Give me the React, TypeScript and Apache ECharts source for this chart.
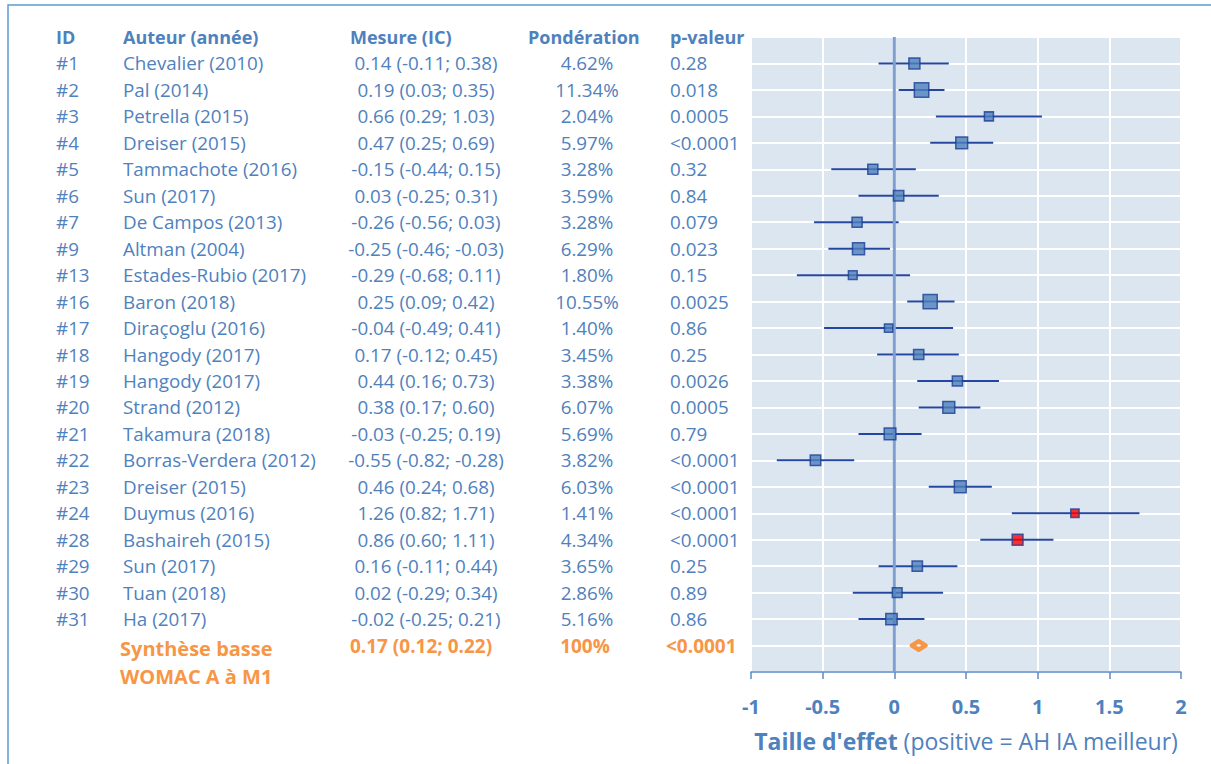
import React, { useEffect, useRef } from "react";
import * as echarts from "echarts";

const ids = ["#1", "#2", "#3", "#4", "#5", "#6", "#7", "#9", "#13", "#16", "#17", "#18", "#19", "#20", "#21", "#22", "#23", "#24", "#28", "#29", "#30", "#31"];
const authors = ["Chevalier (2010)", "Pal (2014)", "Petrella (2015)", "Dreiser (2015)", "Tammachote (2016)", "Sun (2017)", "De Campos (2013)", "Altman (2004)", "Estades-Rubio (2017)", "Baron (2018)", "Diraçoglu (2016)", "Hangody (2017)", "Hangody (2017)", "Strand (2012)", "Takamura (2018)", "Borras-Verdera (2012)", "Dreiser (2015)", "Duymus (2016)", "Bashaireh (2015)", "Sun (2017)", "Tuan (2018)", "Ha (2017)"];
const estimates = [0.14, 0.19, 0.66, 0.47, -0.15, 0.03, -0.26, -0.25, -0.29, 0.25, -0.04, 0.17, 0.44, 0.38, -0.03, -0.55, 0.46, 1.26, 0.86, 0.16, 0.02, -0.02];
const lows = [-0.11, 0.03, 0.29, 0.25, -0.44, -0.25, -0.56, -0.46, -0.68, 0.09, -0.49, -0.12, 0.16, 0.17, -0.25, -0.82, 0.24, 0.82, 0.6, -0.11, -0.29, -0.25];
const highs = [0.38, 0.35, 1.03, 0.69, 0.15, 0.31, 0.03, -0.03, 0.11, 0.42, 0.41, 0.45, 0.73, 0.6, 0.19, -0.28, 0.68, 1.71, 1.11, 0.44, 0.34, 0.21];
const weights = [4.62, 11.34, 2.04, 5.97, 3.28, 3.59, 3.28, 6.29, 1.8, 10.55, 1.4, 3.45, 3.38, 6.07, 5.69, 3.82, 6.03, 1.41, 4.34, 3.65, 2.86, 5.16];
const pValues = ["0.28", "0.018", "0.0005", "<0.0001", "0.32", "0.84", "0.079", "0.023", "0.15", "0.0025", "0.86", "0.25", "0.0026", "0.0005", "0.79", "<0.0001", "<0.0001", "<0.0001", "<0.0001", "0.25", "0.89", "0.86"];
const highlightedIds = ["#24", "#28"];

const headers = ["ID", "Auteur (année)", "Mesure (IC)", "Pondération", "p-valeur"];
const synthLabels = ["Synthèse basse", "WOMAC A à M1"];
const synthEstimate = 0.17;
const synthLow = 0.12;
const synthHigh = 0.22;
const synthWeight = "100%";
const synthP = "<0.0001";

const xMin = -1;
const xMax = 2;
const xInterval = 0.5;

const BLUE = "#4f81bd";
const ORANGE = "#f79646";
const FONT = "'Open Sans', sans-serif";

const f2 = (v: number) => v.toFixed(2);
const measureText = (e: number, l: number, h: number) => `${f2(e)} (${f2(l)}; ${f2(h)})`;

type Cell = { text: string; x: number; align: "left" | "center" | "right"; size?: number; dy?: number };
type Row = { row: number; cells: Cell[]; color: string; bold: boolean; size: number };

const tableRows: Row[] = [];
tableRows.push({
  row: 0,
  color: BLUE,
  bold: true,
  size: 18,
  cells: [
    { text: headers[0], x: 56, align: "left" },
    { text: headers[1], x: 123, align: "left" },
    { text: headers[2], x: 350, align: "left" },
    { text: headers[3], x: 528, align: "left" },
    { text: headers[4], x: 670, align: "left" },
  ],
});
ids.forEach((id, i) => {
  tableRows.push({
    row: i + 1,
    color: BLUE,
    bold: false,
    size: 18.8,
    cells: [
      { text: id, x: 56, align: "left" },
      { text: authors[i], x: 123, align: "left" },
      { text: measureText(estimates[i], lows[i], highs[i]), x: 426, align: "center" },
      { text: weights[i].toFixed(2) + "%", x: 587, align: "center" },
      { text: pValues[i], x: 670, align: "left" },
    ],
  });
});
tableRows.push({
  row: ids.length + 1,
  color: ORANGE,
  bold: true,
  size: 19,
  cells: [
    { text: synthLabels[0], x: 120, align: "left", size: 20, dy: 3 },
    { text: measureText(synthEstimate, synthLow, synthHigh), x: 421, align: "center" },
    { text: synthWeight, x: 585, align: "center" },
    { text: synthP, x: 666, align: "left" },
  ],
});
tableRows.push({
  row: ids.length + 2,
  color: ORANGE,
  bold: true,
  size: 20,
  cells: [{ text: synthLabels[1], x: 120, align: "left", dy: 4 }],
});

const nRows = ids.length + 2;

export default function App() {
  const ref = useRef<HTMLDivElement>(null);
  useEffect(() => {
    document.body.style.margin = "0";
    if (!ref.current) return;
    const chart = echarts.init(ref.current, undefined, { renderer: "svg" });
    const option: any = {
      animation: false,
      backgroundColor: "#ffffff",
      grid: {
        left: 751,
        right: 30,
        top: 37,
        bottom: 92,
        show: true,
        backgroundColor: "#dce6f1",
        borderWidth: 0,
        containLabel: false,
      },
      xAxis: {
        type: "value",
        min: xMin,
        max: xMax,
        interval: xInterval,
        axisLine: { show: true, onZero: false, lineStyle: { color: "#5b8bc9", width: 1.5 } },
        axisTick: { show: true, length: 7, lineStyle: { color: "#5b8bc9", width: 1.5 } },
        splitLine: { show: true, lineStyle: { color: "#ffffff", width: 2 } },
        axisLabel: {
          color: BLUE,
          fontSize: 20,
          fontWeight: "bold",
          fontFamily: FONT,
          margin: 24,
          formatter: (v: number) => String(v),
        },
        name: "{b|Taille d'effet}{n| (positive = AH IA meilleur)}",
        nameLocation: "middle",
        nameGap: 57,
        nameTextStyle: {
          rich: {
            b: { fontWeight: "bold", fontSize: 23, color: BLUE, fontFamily: FONT },
            n: { fontSize: 23, color: BLUE, fontFamily: FONT },
          },
        },
      },
      yAxis: {
        type: "value",
        min: 0,
        max: nRows,
        interval: 1,
        inverse: true,
        axisLine: { show: false },
        axisTick: { show: false },
        axisLabel: { show: false },
        splitLine: { show: true, lineStyle: { color: "#ffffff", width: 2 } },
      },
      graphic: [
        {
          type: "rect",
          silent: true,
          z: -10,
          shape: { x: 8, y: 5, width: 1400, height: 1000 },
          style: { fill: "none", stroke: "#5b9bd5", lineWidth: 1.5 },
        },
      ],
      series: [
        {
          name: "table",
          type: "custom",
          clip: false,
          silent: true,
          z: 5,
          data: tableRows.map((r) => [0, r.row]),
          renderItem: (params: any, api: any) => {
            const r = tableRows[params.dataIndex];
            const y = api.coord([0, api.value(1)])[1];
            return {
              type: "group",
              children: r.cells.map((c) => ({
                type: "text",
                x: c.x,
                y: y + (c.dy || 0),
                style: {
                  text: c.text,
                  fill: r.color,
                  font: `${r.bold ? "bold " : ""}${c.size || r.size}px ${FONT}`,
                  align: c.align,
                  verticalAlign: "middle",
                },
              })),
            };
          },
        },
        {
          name: "ci",
          type: "custom",
          z: 1,
          data: ids.map((_, i) => [lows[i], highs[i], i + 1]),
          encode: { x: [0, 1], y: 2 },
          renderItem: (params: any, api: any) => {
            const p1 = api.coord([api.value(0), api.value(2)]);
            const p2 = api.coord([api.value(1), api.value(2)]);
            return {
              type: "line",
              shape: { x1: p1[0], y1: p1[1], x2: p2[0], y2: p2[1] },
              style: { stroke: "#2446a0", lineWidth: 2 },
            };
          },
        },
        {
          name: "zero",
          type: "line",
          z: 2,
          symbol: "none",
          silent: true,
          data: [
            [0, 0],
            [0, nRows],
          ],
          lineStyle: { color: "#7f9fd0", width: 3 },
        },
        {
          name: "estimates",
          type: "scatter",
          z: 3,
          symbol: "rect",
          symbolSize: (val: number[]) => 5 + 2.8 * Math.sqrt(val[2]),
          data: ids.map((id, i) => ({
            value: [estimates[i], i + 1, weights[i]],
            itemStyle: { color: highlightedIds.includes(id) ? "#ff0000" : BLUE },
          })),
          itemStyle: { borderColor: "#1c3f94", borderWidth: 1.5 },
        },
        {
          name: "synthesis",
          type: "custom",
          z: 4,
          data: [[synthLow, synthHigh, synthEstimate, ids.length + 1]],
          encode: { x: [0, 1, 2], y: 3 },
          renderItem: (params: any, api: any) => {
            const row = api.value(3);
            const l = api.coord([api.value(0), row]);
            const h = api.coord([api.value(1), row]);
            const top = api.coord([api.value(2), row - 0.17]);
            const bot = api.coord([api.value(2), row + 0.17]);
            const c = api.coord([api.value(2), row]);
            return {
              type: "group",
              children: [
                {
                  type: "polygon",
                  shape: { points: [l, top, h, bot] },
                  style: { fill: ORANGE, stroke: ORANGE, lineWidth: 4, lineJoin: "round" },
                },
                {
                  type: "ellipse",
                  shape: { cx: c[0], cy: c[1], rx: 2.2, ry: 1.2 },
                  style: { fill: "#ffffff" },
                },
              ],
            };
          },
        },
      ],
    };
    chart.setOption(option);
    return () => chart.dispose();
  }, []);
  return <div ref={ref} style={{ width: 1211, height: 764 }} />;
}
